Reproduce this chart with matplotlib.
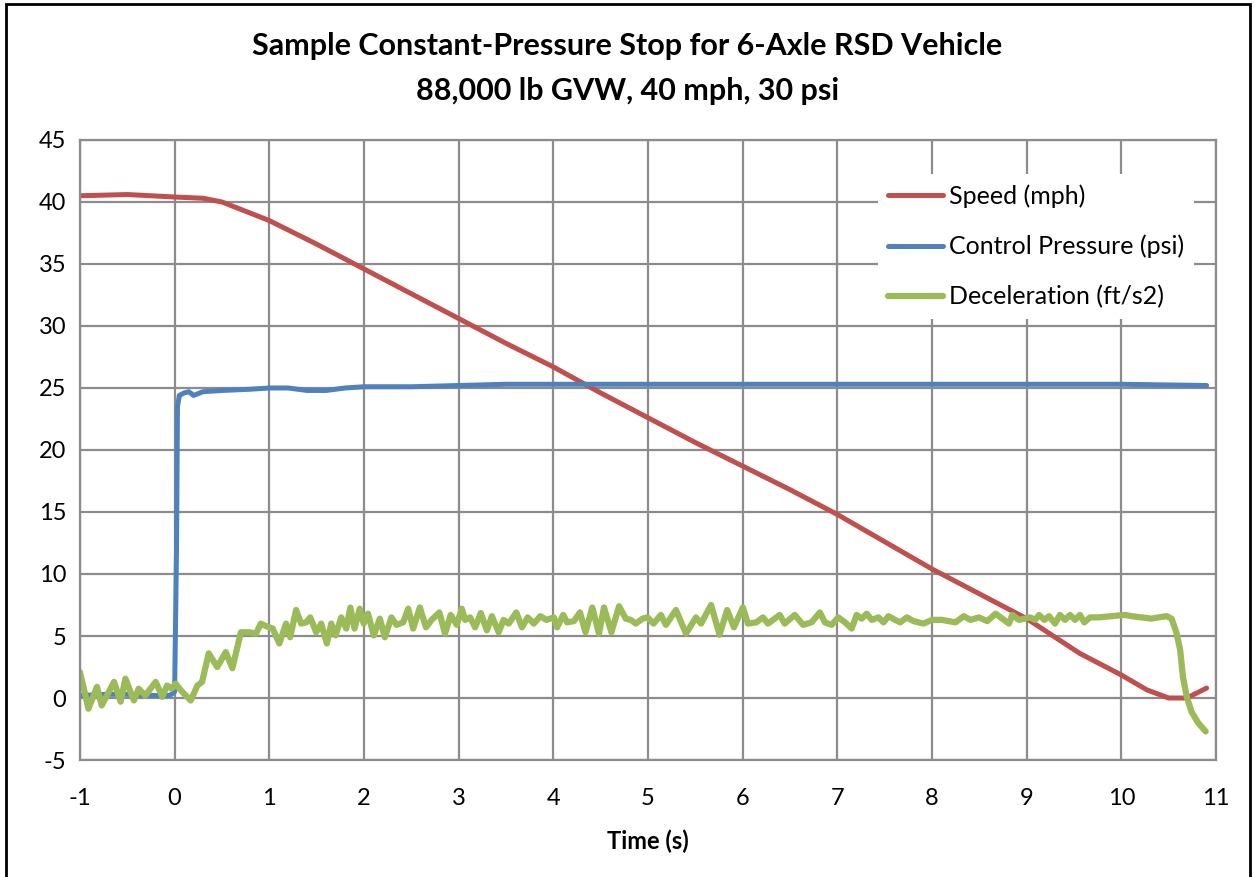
import matplotlib
matplotlib.use('Agg')
import matplotlib.pyplot as plt
from matplotlib.patches import Rectangle

plt.rcParams['font.family'] = ['Lato', 'DejaVu Sans']
plt.rcParams['axes.unicode_minus'] = False

# Speed (mph)
speed_t = [-1.0, -0.5, 0.0, 0.3, 0.5, 0.7, 1.0, 1.5, 2.0, 2.5, 3.0, 3.5, 4.0, 4.5,
           5.0, 5.5, 6.0, 6.5, 7.0, 7.5, 8.0, 8.5, 9.0, 9.21, 9.56, 10.0, 10.27,
           10.5, 10.69, 10.9]
speed_v = [40.5, 40.6, 40.4, 40.3, 40.0, 39.4, 38.5, 36.6, 34.6, 32.6, 30.6, 28.6,
           26.7, 24.6, 22.6, 20.6, 18.7, 16.8, 14.8, 12.6, 10.4, 8.4, 6.4, 5.35,
           3.6, 1.85, 0.65, 0.0, 0.0, 0.8]

# Control pressure (psi)
press_t = [-1.0, -0.7, -0.5, -0.2, -0.05, 0.0, 0.02, 0.03, 0.05, 0.1, 0.15, 0.2,
           0.3, 0.5, 0.8, 1.0, 1.2, 1.4, 1.6, 1.8, 2.0, 2.5, 3.0, 3.5, 4.0, 5.0,
           6.0, 7.0, 8.0, 9.0, 10.0, 10.9]
press_v = [0.2, 0.3, 0.3, 0.2, 0.2, 0.5, 12.0, 23.5, 24.4, 24.6, 24.7, 24.4, 24.7,
           24.8, 24.9, 25.0, 25.0, 24.8, 24.8, 25.0, 25.1, 25.1, 25.2, 25.3, 25.3,
           25.3, 25.3, 25.3, 25.3, 25.3, 25.3, 25.2]

# Deceleration (ft/s2), peaks and troughs of the trace
decel_t = [-1.0, -0.91, -0.82, -0.77, -0.64, -0.57, -0.52, -0.43, -0.38, -0.31,
           -0.20, -0.13, -0.08, -0.03, 0.01, 0.08, 0.17, 0.24, 0.29, 0.36, 0.45,
           0.54, 0.61, 0.70, 0.79, 0.86, 0.91, 0.965, 1.036, 1.106, 1.177, 1.22,
           1.283, 1.336, 1.389, 1.432, 1.495, 1.548, 1.608, 1.654, 1.70, 1.76,
           1.813, 1.856, 1.90, 1.955, 1.997, 2.043, 2.103, 2.167, 2.22, 2.29,
           2.344, 2.414, 2.467, 2.52, 2.59, 2.655, 2.715, 2.796, 2.856, 2.916,
           2.98, 3.033, 3.068, 3.121, 3.174, 3.234, 3.298, 3.351, 3.422, 3.475,
           3.528, 3.609, 3.669, 3.729, 3.793, 3.863, 3.927, 4.005, 4.04, 4.104,
           4.146, 4.217, 4.281, 4.34, 4.411, 4.482, 4.535, 4.613, 4.694, 4.765,
           4.818, 4.871, 4.942, 4.995, 5.058, 5.136, 5.189, 5.295, 5.401, 5.507,
           5.56, 5.666, 5.755, 5.836, 5.907, 6.002, 6.055, 6.143, 6.214, 6.267,
           6.391, 6.444, 6.55, 6.638, 6.727, 6.815, 6.868, 6.939, 7.01, 7.081,
           7.151, 7.204, 7.257, 7.31, 7.363, 7.434, 7.487, 7.54, 7.61, 7.664,
           7.734, 7.805, 7.911, 7.999, 8.105, 8.176, 8.247, 8.335, 8.406, 8.494,
           8.583, 8.671, 8.741, 8.812, 8.848, 8.918, 8.98, 9.035, 9.088, 9.13,
           9.186, 9.235, 9.30, 9.35, 9.404, 9.457, 9.51, 9.562, 9.608, 9.668,
           9.755, 9.897, 10.037, 10.107, 10.213, 10.318, 10.388, 10.477, 10.53,
           10.58, 10.62, 10.65, 10.69, 10.74, 10.81, 10.89]
decel_v = [2.1, -0.86, 0.9, -0.6, 1.3, -0.3, 1.56, -0.2, 0.75, 0.2,
           1.3, 0.1, 1.0, 0.75, 1.15, 0.5, -0.2, 1.0, 1.3, 3.6, 2.5,
           3.7, 2.4, 5.3, 5.3, 5.2, 6.0, 5.8, 5.6, 4.4, 6.0, 4.9,
           7.1, 6.0, 6.1, 6.5, 5.3, 6.0, 4.4, 6.0, 5.05, 6.5,
           5.6, 7.3, 5.6, 7.2, 6.0, 6.8, 5.05, 6.4, 4.9, 6.5,
           5.9, 6.1, 7.2, 5.6, 7.3, 5.7, 6.3, 6.9, 5.2, 6.7,
           5.9, 7.2, 6.3, 6.5, 5.7, 6.85, 5.46, 6.6, 5.3, 6.3,
           6.0, 6.9, 5.7, 6.5, 6.0, 6.6, 6.3, 6.5, 5.7, 6.7,
           6.1, 6.2, 6.9, 5.3, 7.3, 5.2, 7.3, 5.3, 7.4, 6.4,
           6.3, 6.0, 6.4, 6.5, 6.0, 6.7, 5.9, 7.1, 5.2, 6.5,
           6.0, 7.5, 5.1, 7.1, 5.7, 7.3, 6.0, 6.1, 6.5, 6.0,
           6.7, 6.0, 6.7, 5.9, 6.1, 6.9, 6.1, 5.9, 6.5, 6.1,
           5.6, 6.7, 6.4, 6.8, 6.3, 6.5, 6.1, 6.6, 6.3, 6.1,
           6.5, 6.2, 6.0, 6.3, 6.3, 6.2, 6.1, 6.6, 6.3, 6.5,
           6.2, 6.8, 6.4, 6.0, 6.7, 6.3, 6.4, 6.5, 6.3, 6.7,
           6.3, 6.6, 6.0, 6.7, 6.3, 6.7, 6.3, 6.7, 6.1, 6.5,
           6.5, 6.6, 6.7, 6.6, 6.5, 6.4, 6.5, 6.6, 6.4,
           5.3, 3.9, 1.7, 0.1, -1.1, -2.0, -2.7]

x_ticks = list(range(-1, 12))
y_ticks = list(range(-5, 50, 5))

fig = plt.figure(figsize=(12.55, 8.77), dpi=100)
ax = fig.add_axes([0.0637, 0.1334, 0.9053, 0.707])

grid_col = '#8c8c8c'
ax.plot(speed_t, speed_v, color='#C0504D', lw=3.6, label='Speed (mph)',
        solid_capstyle='round', solid_joinstyle='round')
ax.plot(press_t, press_v, color='#4F81BD', lw=3.6, label='Control Pressure (psi)',
        solid_capstyle='round', solid_joinstyle='round')
ax.plot(decel_t, decel_v, color='#9BBB59', lw=4.5, label='Deceleration (ft/s2)',
        solid_capstyle='round', solid_joinstyle='round')

ax.set_xlim(-1, 11)
ax.set_ylim(-5, 45)
ax.set_xticks(x_ticks)
ax.set_yticks(y_ticks)
ax.grid(True, color=grid_col, lw=1.6)
ax.set_axisbelow(True)
for s in ax.spines.values():
    s.set_color(grid_col)
    s.set_linewidth(1.6)
ax.tick_params(length=0, labelsize=17, colors='black')
ax.tick_params(axis='x', pad=20)
ax.tick_params(axis='y', pad=10)
ax.set_xlabel('Time (s)', fontsize=17, fontweight='bold', labelpad=15)

leg = ax.legend(loc='upper left', bbox_to_anchor=(0.7025, 0.945), fontsize=18,
                frameon=True, framealpha=1, edgecolor='none', fancybox=False,
                handlelength=2.2, handletextpad=0.25, labelspacing=1.08,
                borderpad=0.4, borderaxespad=0)

fig.text(0.5, 0.948, 'Sample Constant-Pressure Stop for 6-Axle RSD Vehicle',
         ha='center', va='center', fontsize=22, fontweight='bold')
fig.text(0.5, 0.896, '88,000 lb GVW, 40 mph, 30 psi',
         ha='center', va='center', fontsize=22, fontweight='bold')

fig.patches.append(Rectangle((0.005, -0.01), 0.991, 1.006, transform=fig.transFigure,
                             fill=False, edgecolor='black', lw=2))

fig.savefig('out.png', dpi=100)
